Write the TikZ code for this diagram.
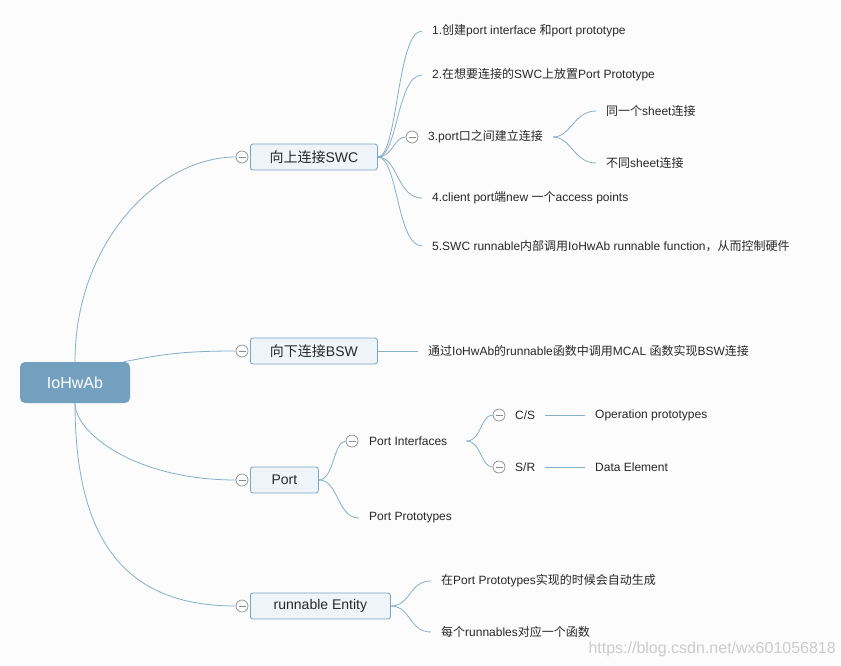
\documentclass[tikz,border=0pt]{standalone}
\usepackage{fontspec}
\setmainfont{Liberation Sans}
\newfontfamily\cjk{Noto Sans CJK SC}
\usetikzlibrary{positioning,calc}
\definecolor{bgpaper}{RGB}{252,252,252}
\definecolor{rootblue}{RGB}{116,160,192}
\definecolor{topicfill}{RGB}{239,244,248}
\definecolor{topicborder}{RGB}{122,163,195}
\definecolor{branchblue}{RGB}{134,174,203}
\definecolor{foldgray}{RGB}{140,140,140}
\definecolor{inkgray}{RGB}{40,40,40}

\begin{document}
\begin{tikzpicture}[x=1pt, y=-1pt,
    root/.style={fill=rootblue, rounded corners=5pt, text=white, inner sep=0pt,
                 minimum width=110pt, minimum height=41pt, font=\fontsize{16}{18}\selectfont},
    topic/.style={draw=topicborder, fill=topicfill, rounded corners=2.5pt, anchor=west, inner sep=0pt,
                  minimum height=26pt, line width=0.8pt, text=inkgray, font=\fontsize{14}{16}\selectfont},
    item/.style={anchor=west, inner ysep=0pt, inner xsep=10pt, text=inkgray,
                 font=\fontsize{12}{14}\selectfont},
    fold/.style={circle, draw=foldgray, fill=white, minimum size=12pt, inner sep=0pt, line width=0.7pt,
                 path picture={\draw[foldgray, line width=0.7pt]
                    ($(path picture bounding box.center)+(-3.5pt,0)$) -- ($(path picture bounding box.center)+(3.5pt,0)$);}},
    branch/.style={draw=branchblue, line width=0.8pt}
]

\fill[bgpaper] (0,0) rectangle (841,665);
\useasboundingbox (0,0) rectangle (841,665);

% central topic
\node[root] (root) at (75,382.5) {IoHwAb};

% main topics
\node[topic, minimum width=127pt] (swc) at (250,157) {{\cjk 向上连接}SWC};
\node[topic, minimum width=127pt] (bsw) at (250,351) {{\cjk 向下连接}BSW};
\node[topic, minimum width=68pt] (port) at (250,480) {Port};
\node[topic, minimum width=140pt] (run) at (250,606) {runnable Entity};

\node[fold] (f-swc) at (242,157) {};
\node[fold] (f-bsw) at (242,351) {};
\node[fold] (f-port) at (242,480) {};
\node[fold] (f-run) at (242,606) {};

% SWC details
\node[item] (swc-1) at (422,31) {1.{\cjk 创建}port interface {\cjk 和}port prototype};
\node[item] (swc-2) at (422,75) {2.{\cjk 在想要连接的}SWC{\cjk 上放置}Port Prototype};
\node[fold] (f-swc-3) at (412,137) {};
\node[item] (swc-3) at (418,137) {3.port{\cjk 口之间建立连接}};
\node[item] (swc-3a) at (596,111) {{\cjk 同一个}sheet{\cjk 连接}};
\node[item] (swc-3b) at (596,163) {{\cjk 不同}sheet{\cjk 连接}};
\node[item] (swc-4) at (422,198) {4.client port{\cjk 端}new {\cjk 一个}access points};
\node[item] (swc-5) at (422,246) {5.SWC runnable{\cjk 内部调用}IoHwAb runnable function{\cjk ，从而控制硬件}};

% BSW details
\node[item] (bsw-1) at (418,351) {{\cjk 通过}IoHwAb{\cjk 的}runnable{\cjk 函数中调用}MCAL {\cjk 函数实现}BSW{\cjk 连接}};

% Port details
\node[fold] (f-pi) at (352,441) {};
\node[item] (pi) at (359,441) {Port Interfaces};
\node[item] (pp) at (359,518) {Port Prototypes};
\node[fold] (f-cs) at (499,415) {};
\node[item] (cs) at (505,415) {C/S};
\node[fold] (f-sr) at (499,467) {};
\node[item] (sr) at (505,467) {S/R};
\node[item] (op) at (585,415) {Operation prototypes};
\node[item] (de) at (585,467) {Data Element};

% runnable details
\node[item] (run-1) at (431,581) {{\cjk 在}Port Prototypes{\cjk 实现的时候会自动生成}};
\node[item] (run-2) at (431,632) {{\cjk 每个}runnables{\cjk 对应一个函数}};

% branches from the centre
\draw[branch] (root.north) .. controls +(0,-121) and +(-76,0) .. (f-swc.west);
\draw[branch] (root.23) .. controls +(40,-8) and +(-50,0) .. (f-bsw.west);
\draw[branch] (root.south) .. controls +(0,30) and +(-100,0) .. (f-port.west);
\draw[branch] (root.south) .. controls +(0,150) and +(-100,0) .. (f-run.west);

% branches of SWC
\foreach \leaf in {swc-1,swc-2,swc-4,swc-5}
  \draw[branch] (swc.east) .. controls +(20,0) and +(-25,0) .. (\leaf.west);
\draw[branch] (swc.east) .. controls +(15,0) and +(-12,0) .. (f-swc-3.west);
\draw[branch] (swc-3.east) .. controls +(18,0) and +(-22,0) .. (swc-3a.west);
\draw[branch] (swc-3.east) .. controls +(18,0) and +(-22,0) .. (swc-3b.west);

% branch of BSW
\draw[branch] (bsw.east) -- (bsw-1.west);

% branches of Port
\draw[branch] (port.east) .. controls +(15,0) and +(-12,0) .. (f-pi.west);
\draw[branch] (port.east) .. controls +(20,0) and +(-22,0) .. (pp.west);
\draw[branch] ($(pi.east)+(9,0)$) .. controls +(15,0) and +(-12,0) .. (f-cs.west);
\draw[branch] ($(pi.east)+(9,0)$) .. controls +(15,0) and +(-12,0) .. (f-sr.west);
\draw[branch] (cs.east) -- (op.west);
\draw[branch] (sr.east) -- (de.west);

% branches of runnable Entity
\draw[branch] (run.east) .. controls +(20,0) and +(-22,0) .. (run-1.west);
\draw[branch] (run.east) .. controls +(20,0) and +(-22,0) .. (run-2.west);

% watermark
\node[anchor=east, inner sep=0pt, text=black!20, font=\fontsize{16}{18}\selectfont] (mark) at (836,649) {https://blog.csdn.net/wx601056818};

\end{tikzpicture}
\end{document}
